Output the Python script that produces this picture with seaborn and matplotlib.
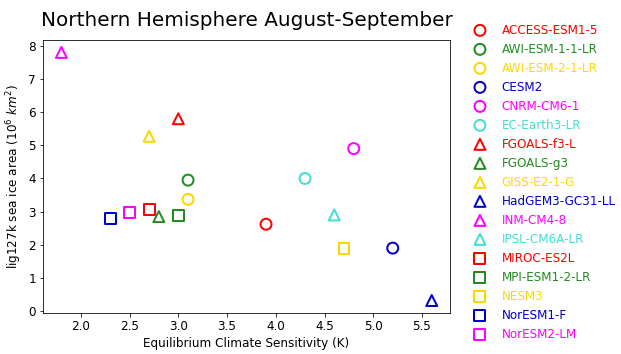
import matplotlib
matplotlib.use("Agg")
import matplotlib.pyplot as plt
import seaborn as sns

# Model names, ECS (K) and lig127k NH Aug-Sep sea ice area (10^6 km^2)
models = ["ACCESS-ESM1-5", "AWI-ESM-1-1-LR", "AWI-ESM-2-1-LR", "CESM2",
          "CNRM-CM6-1", "EC-Earth3-LR", "FGOALS-f3-L", "FGOALS-g3",
          "GISS-E2-1-G", "HadGEM3-GC31-LL", "INM-CM4-8", "IPSL-CM6A-LR",
          "MIROC-ES2L", "MPI-ESM1-2-LR", "NESM3", "NorESM1-F", "NorESM2-LM"]
ecs = [3.9, 3.1, 3.1, 5.2, 4.8, 4.3, 3.0, 2.8, 2.7, 5.6, 1.8, 4.6,
       2.7, 3.0, 4.7, 2.3, 2.5]
ice_area = [2.62, 3.95, 3.37, 1.90, 4.90, 4.00, 5.80, 2.85, 5.27, 0.32,
            7.80, 2.90, 3.07, 2.87, 1.90, 2.78, 2.98]

# styling: colours cycle, marker changes every 6 models
colours = ["red", "forestgreen", "gold", "mediumblue", "magenta", "turquoise"]
marker_cycle = ["o", "^", "s"]

plt.rcParams["font.size"] = 12

fig, ax = plt.subplots(figsize=(621 / 72, 354 / 72), dpi=72)
fig.subplots_adjust(left=0.069, right=0.725, top=0.887, bottom=0.116)

for i, name in enumerate(models):
    c = colours[i % len(colours)]
    m = marker_cycle[i // len(colours)]
    sns.scatterplot(x=[ecs[i]], y=[ice_area[i]], ax=ax, marker=m, s=120,
                    color=c, facecolor="none", edgecolor=c, linewidth=2,
                    label=name)

ax.set_xlabel("Equilibrium Climate Sensitivity (K)")
ax.set_ylabel(r"lig127k sea ice area ($10^6$ $km^2$)")
ax.set_title("Northern Hemisphere August-September", fontsize=20, pad=14)

leg = ax.legend(loc="upper left", bbox_to_anchor=(1.017, 1.10),
                frameon=False, labelspacing=0.5)
for txt, i in zip(leg.get_texts(), range(len(models))):
    txt.set_color(colours[i % len(colours)])

fig.savefig("out.png", dpi=72)
